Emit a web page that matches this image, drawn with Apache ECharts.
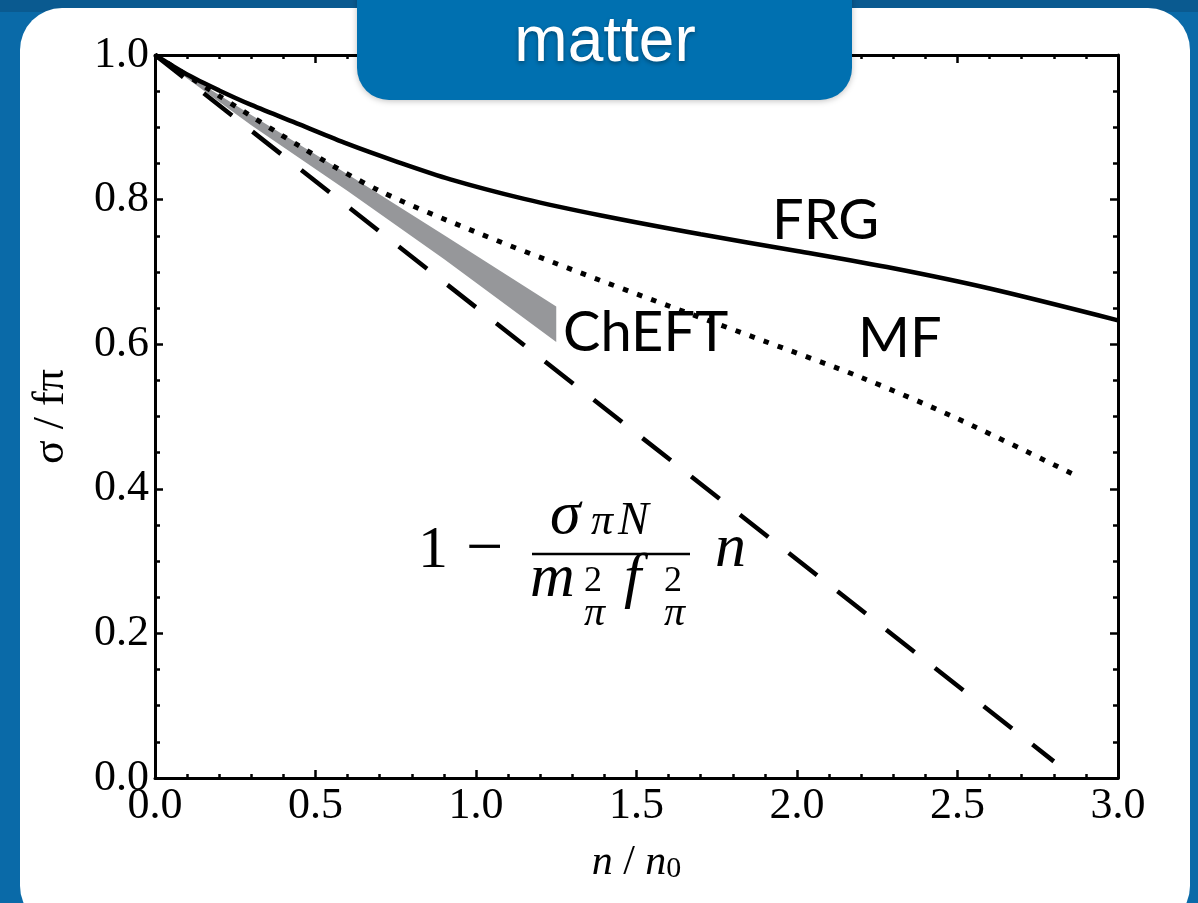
<!DOCTYPE html>
<html><head><meta charset="utf-8">
<script src="https://cdn.jsdelivr.net/npm/echarts@6/dist/echarts.min.js"></script>
<style>html,body{margin:0;padding:0;background:#0a6aa8}#c{width:1198px;height:903px}</style>
</head><body><div id="c"></div><script>
// ---- data ----
const xTickLabels = ['0.0','0.5','1.0','1.5','2.0','2.5','3.0'];
const yTickLabels = ['0.0','0.2','0.4','0.6','0.8','1.0'];

const frgN = [0, 0.1, 0.2, 0.3, 0.45, 0.6, 0.75, 0.92, 1.15, 1.39, 1.7, 2.0, 2.3, 2.6, 3.0];
const frgV = [1, 0.973, 0.951, 0.931, 0.904, 0.877, 0.853, 0.828, 0.801, 0.778, 0.752, 0.729, 0.705, 0.677, 0.633];

const mfN = [0, 0.45, 0.7, 1.0, 1.3, 1.6, 1.9, 2.2, 2.5, 2.88];
const mfV = [1, 0.874, 0.812, 0.755, 0.703, 0.653, 0.604, 0.554, 0.497, 0.416];

const linN = [0, 2.8];
const linV = [1, 0.023];

const bandN = [0, 0.3, 0.6, 0.9, 1.25];
const bandUpper = [1, 0.917, 0.835, 0.751, 0.652];
const bandLower = [1, 0.903, 0.812, 0.718, 0.603];

const labels = {frg: 'FRG', mf: 'MF', cheft: 'ChEFT', tab: 'matter'};

// ---- chart ----
const pairs = (a, b) => a.map((v, i) => [v, b[i]]);
const chart = echarts.init(document.getElementById('c'), null, {renderer: 'canvas'});
const SERIF = 'Liberation Serif';
const axisCommon = {
  type: 'value',
  axisLine: {show: true, onZero: false, lineStyle: {color: '#000', width: 3}},
  axisTick: {show: true, inside: true, length: 8, lineStyle: {color: '#000', width: 2.5}},
  splitLine: {show: false},
  minorSplitLine: {show: false}
};
const bl = (baseline, size) => baseline - 0.32 * size;
const txt = (x, baseline, text, size, opts) => ({
  type: 'text', z: 40, x: x, y: bl(baseline, size),
  style: Object.assign({text: text, fill: '#000', font: size + 'px "' + SERIF + '"', align: 'left', verticalAlign: 'middle'}, opts || {})
});
const itxt = (x, baseline, text, size) => txt(x, baseline, text, size, {font: 'italic ' + size + 'px "' + SERIF + '"'});

const option = {
  backgroundColor: '#0a6aa8',
  animation: false,
  grid: {left: 155, right: 80, top: 55, bottom: 125, containLabel: false},
  xAxis: [
    Object.assign({}, axisCommon, {
      min: 0, max: 3, interval: 0.5, position: 'bottom',
      minorTick: {show: true, splitNumber: 5, length: 4, lineStyle: {color: '#000', width: 2.5}},
      axisLabel: {show: true, margin: 6, color: '#000', fontFamily: SERIF, fontSize: 44,
        showMinLabel: true, showMaxLabel: true,
        formatter: (v) => xTickLabels[Math.round(v / 0.5)]},
      name: '{i|n} / {i|n}{s|0}', nameLocation: 'middle', nameGap: 64,
      nameTextStyle: {color: '#000', fontFamily: SERIF, fontSize: 42,
        rich: {i: {fontFamily: SERIF, fontStyle: 'italic', fontSize: 42, color: '#000'},
               s: {fontFamily: SERIF, fontSize: 30, color: '#000', verticalAlign: 'bottom'}}}
    }),
    Object.assign({}, axisCommon, {
      min: 0, max: 3, interval: 0.5, position: 'top',
      minorTick: {show: true, splitNumber: 5, length: 4, lineStyle: {color: '#000', width: 2.5}},
      axisLabel: {show: false}
    })
  ],
  yAxis: [
    Object.assign({}, axisCommon, {
      min: 0, max: 1, interval: 0.2, position: 'left',
      minorTick: {show: true, splitNumber: 4, length: 5, lineStyle: {color: '#000', width: 2.5}},
      axisLabel: {show: true, margin: 6, color: '#000', fontFamily: SERIF, fontSize: 44,
        showMinLabel: true, showMaxLabel: true,
        formatter: (v) => yTickLabels[Math.round(v / 0.2)]},
      name: 'σ / fπ', nameLocation: 'middle', nameGap: 82, nameRotate: 90,
      nameTextStyle: {color: '#000', fontFamily: SERIF, fontSize: 44}
    }),
    Object.assign({}, axisCommon, {
      min: 0, max: 1, interval: 0.2, position: 'right',
      minorTick: {show: true, splitNumber: 4, length: 5, lineStyle: {color: '#000', width: 2.5}},
      axisLabel: {show: false}
    })
  ],
  series: [
    {
      type: 'custom', name: 'ChEFT', z: 1,
      renderItem: function (params, api) {
        const up = bandN.map((n, i) => api.coord([n, bandUpper[i]]));
        const lo = bandN.map((n, i) => api.coord([n, bandLower[i]])).reverse();
        return {type: 'polygon', shape: {points: up.concat(lo)}, style: {fill: '#96979a', stroke: null}};
      },
      data: [[0, 1]]
    },
    {
      type: 'line', name: 'FRG', data: pairs(frgN, frgV), smooth: 0.3, showSymbol: false, symbol: 'none',
      lineStyle: {color: '#000', width: 4.5}, z: 3
    },
    {
      type: 'line', name: 'MF', data: pairs(mfN, mfV), smooth: 0.3, showSymbol: false, symbol: 'none',
      lineStyle: {color: '#000', width: 5, type: [5.5, 9.5], cap: 'butt'}, z: 3
    },
    {
      type: 'line', name: 'lin', data: pairs(linN, linV), showSymbol: false, symbol: 'none',
      lineStyle: {color: '#000', width: 4.5, type: [36, 26], cap: 'butt'}, z: 3
    }
  ],
  graphic: [
    {type: 'rect', z: -100, shape: {x: 0, y: 0, width: 1198, height: 12}, style: {fill: '#0a5a90'}},
    {type: 'rect', z: -90, shape: {x: 20, y: 8, width: 1170, height: 920, r: 42}, style: {fill: '#ffffff'}},
    {type: 'rect', z: 100, shape: {x: 357, y: -40, width: 495, height: 140, r: 32},
      style: {fill: '#0070b0', shadowBlur: 6, shadowColor: 'rgba(0,0,0,0.25)', shadowOffsetY: 1}},
    {type: 'text', z: 101, x: 605, y: 43,
      style: {text: labels.tab, fill: '#fff', font: '64px "Liberation Sans"', align: 'center', verticalAlign: 'middle',
        textShadowBlur: 4, textShadowColor: 'rgba(0,0,0,0.35)', textShadowOffsetY: 2}},
    {type: 'text', z: 40, x: 772, y: 221,
      style: {text: labels.frg, fill: '#000', font: '56px "Lato"', align: 'left', verticalAlign: 'middle'}},
    {type: 'text', z: 40, x: 563, y: 333,
      style: {text: labels.cheft, fill: '#000', font: '56px "Lato"', align: 'left', verticalAlign: 'middle'}},
    {type: 'text', z: 40, x: 858, y: 339,
      style: {text: labels.mf, fill: '#000', font: '56px "Lato"', align: 'left', verticalAlign: 'middle'}},
    // formula 1 - sigma_{piN}/(m_pi^2 f_pi^2) n
    txt(418, 570, '1', 60),
    txt(466, 572, '−', 66),
    {type: 'line', z: 40, shape: {x1: 532, y1: 554, x2: 690, y2: 554}, style: {stroke: '#000', lineWidth: 2.5}},
    itxt(550, 537, 'σ', 62),
    itxt(591, 537, 'π', 44),
    itxt(618, 537, 'N', 46),
    itxt(530, 600, 'm', 62),
    txt(584, 593, '2', 36),
    itxt(584, 627, 'π', 42),
    itxt(624, 600, 'f', 62),
    txt(664, 593, '2', 36),
    itxt(664, 627, 'π', 42),
    itxt(715, 570, 'n', 62)
  ]
};
chart.setOption(option);
</script></body></html>
